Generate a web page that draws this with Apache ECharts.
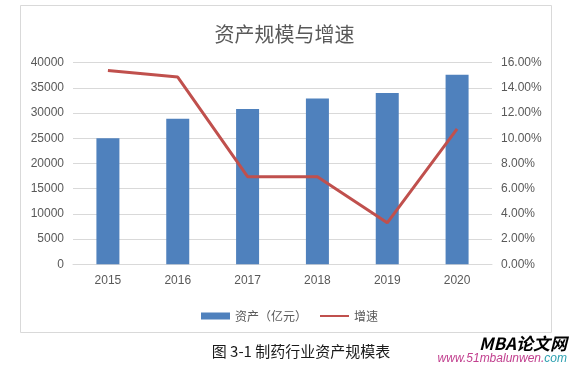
<!DOCTYPE html>
<html>
<head>
<meta charset="utf-8">
<script src="https://cdn.jsdelivr.net/npm/echarts@6/dist/echarts.min.js"></script>
<style>
html,body{margin:0;padding:0;background:#fff;}
#c{width:569px;height:366px;}
</style>
</head>
<body>
<div id="c"></div>
<script>
var categories = ['2015', '2016', '2017', '2018', '2019', '2020'];
var assets = [25000, 28900, 30800, 32900, 34000, 37600];
var growth = [0.1539, 0.1486, 0.0695, 0.0695, 0.0329, 0.1074];
var titleText = '资产规模与增速';
var seriesNames = ['资产（亿元）', '增速'];
var captionText = '图 3-1 制药行业资产规模表';

var chart = echarts.init(document.getElementById('c'), null, {renderer: 'canvas'});
var numFont = '"Liberation Sans", Arial, sans-serif';
var cjkFont = '"Noto Sans CJK SC", sans-serif';
var option = {
  animation: false,
  backgroundColor: '#fff',
  title: {
    text: titleText,
    left: 'center',
    top: 19,
    textStyle: {fontFamily: cjkFont, fontSize: 20, fontWeight: 'normal', color: '#595959'}
  },
  legend: {
    left: 196,
    top: 305,
    itemWidth: 29,
    itemHeight: 7,
    itemGap: 12,
    textStyle: {fontFamily: cjkFont, fontSize: 12, color: '#595959'},
    data: [
      {name: seriesNames[0], icon: 'rect'},
      {name: seriesNames[1], itemStyle: {opacity: 0}}
    ]
  },
  grid: {left: 73, right: 77, top: 62.7, bottom: 101.7, containLabel: false},
  xAxis: {
    type: 'category',
    data: categories,
    axisTick: {show: false},
    axisLine: {lineStyle: {color: '#D9D9D9', width: 1}},
    axisLabel: {color: '#595959', fontSize: 12, fontFamily: numFont, margin: 10}
  },
  yAxis: [
    {
      type: 'value', min: 0, max: 40000, interval: 5000,
      axisLine: {show: false}, axisTick: {show: false},
      splitLine: {lineStyle: {color: '#D9D9D9', width: 1}},
      axisLabel: {color: '#595959', fontSize: 12, fontFamily: numFont, margin: 9,
        formatter: function (v) { return String(v); }}
    },
    {
      type: 'value', min: 0, max: 0.16, interval: 0.02,
      axisLine: {show: false}, axisTick: {show: false},
      splitLine: {show: false},
      axisLabel: {color: '#595959', fontSize: 12, fontFamily: numFont, margin: 9,
        formatter: function (v) { return (v * 100).toFixed(2) + '%'; }}
    }
  ],
  series: [
    {
      name: seriesNames[0], type: 'bar', data: assets, barWidth: 23,
      itemStyle: {color: '#4F81BD'}
    },
    {
      name: seriesNames[1], type: 'line', yAxisIndex: 1, data: growth,
      symbol: 'none', lineStyle: {color: '#C0504D', width: 3}, itemStyle: {color: '#C0504D'}
    }
  ],
  graphic: [
    {type: 'rect', z: -10, shape: {x: 20.5, y: 5.5, width: 531, height: 327},
     style: {fill: '#fff', stroke: '#D9D9D9', lineWidth: 1}},
    {type: 'text', x: 301, y: 351, style: {text: captionText, fill: '#1a1a1a',
      font: '15px "Noto Sans CJK SC", sans-serif', textAlign: 'center', textVerticalAlign: 'middle'}},
    {type: 'text', x: 567, y: 344, style: {text: 'MBA论文网', fill: '#000',
      font: 'italic bold 17px "Noto Sans CJK SC", sans-serif', textAlign: 'right', textVerticalAlign: 'middle'}},
    {type: 'text', x: 567, y: 359, style: {
      text: '{a|www.51mbalunwen.}{b|com}', textAlign: 'right', textVerticalAlign: 'middle',
      rich: {
        a: {fill: '#c2408f', font: 'italic 12px "Liberation Sans", Arial, sans-serif'},
        b: {fill: '#2a9fb0', font: 'italic 12px "Liberation Sans", Arial, sans-serif'}
      }}}
  ]
};
chart.setOption(option);
</script>
</body>
</html>
